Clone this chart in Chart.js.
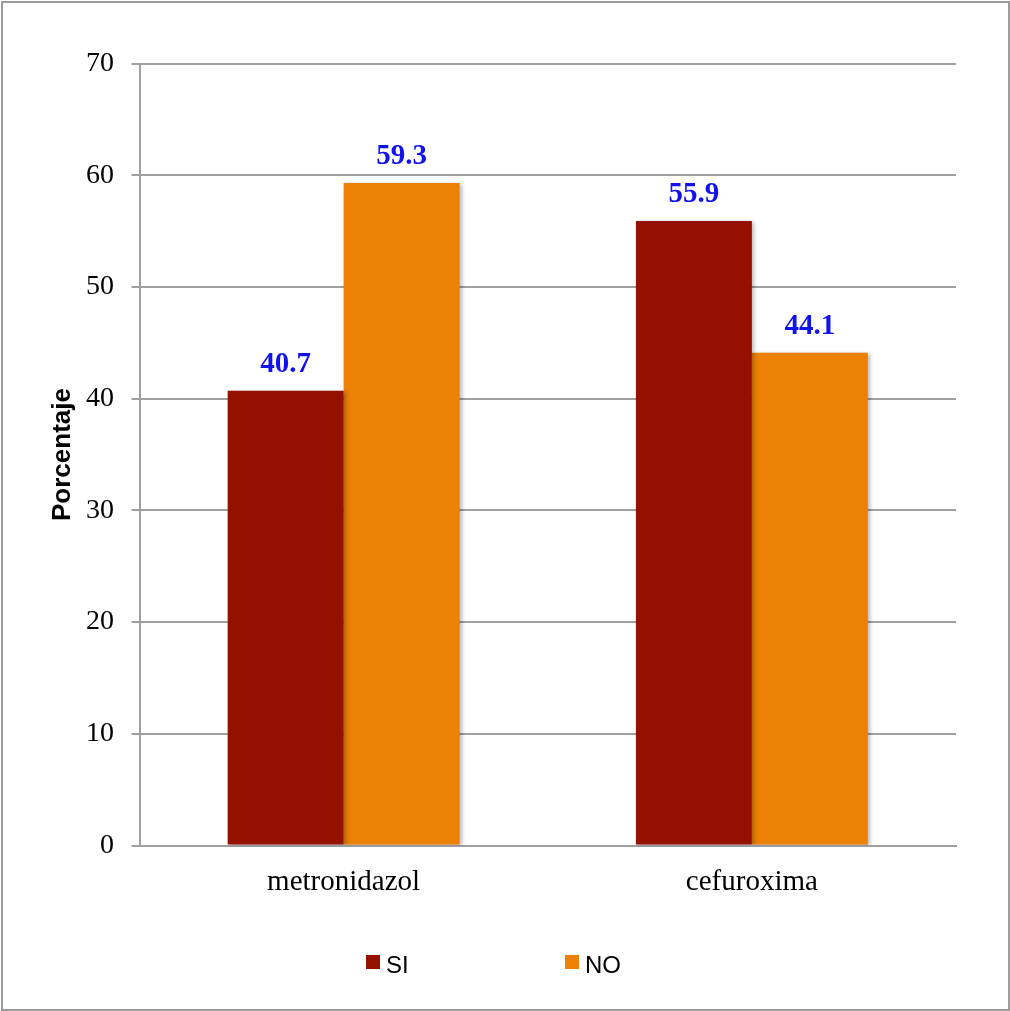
<!DOCTYPE html>
<html>
<head>
<meta charset="utf-8">
<script src="https://cdn.jsdelivr.net/npm/chart.js@4/dist/chart.umd.min.js"></script>
<style>
  html, body { margin: 0; padding: 0; background: #fff; }
  #wrap { position: absolute; left: 0; top: 0; width: 1010px; height: 1011px; }
</style>
</head>
<body>
<div id="wrap"><canvas id="grafico" width="1010" height="1011"></canvas></div>
<script>
const categorias = ['metronidazol', 'cefuroxima'];
const valoresSi = [40.7, 55.9];
const valoresNo = [59.3, 44.1];
const ejeMax = 70;
const ejePaso = 10;

const colorSi = '#941100';
const colorNo = '#ec8106';
const colorGris = '#a0a0a0';

// marco gris alrededor de todo el grafico
const marco = {
    id: 'marco',
    beforeDraw(chart) {
        const ctx = chart.ctx;
        ctx.save();
        ctx.fillStyle = '#fff';
        ctx.fillRect(0, 0, chart.width, chart.height);
        ctx.strokeStyle = '#9c9c9c';
        ctx.lineWidth = 2;
        ctx.strokeRect(2, 2, chart.width - 3, chart.height - 3);
        ctx.restore();
    }
};

// sombra suave de las barras
const sombra = {
    id: 'sombra',
    beforeDatasetDraw(chart) {
        const ctx = chart.ctx;
        ctx.save();
        ctx.shadowColor = 'rgba(0,0,0,0.28)';
        ctx.shadowBlur = 4;
        ctx.shadowOffsetX = 2;
        ctx.shadowOffsetY = 1;
    },
    afterDatasetDraw(chart) {
        chart.ctx.restore();
    }
};

// valores encima de cada barra
const etiquetas = {
    id: 'etiquetas',
    afterDatasetsDraw(chart) {
        const ctx = chart.ctx;
        ctx.save();
        ctx.font = 'bold 29px "Liberation Serif"';
        ctx.fillStyle = '#1212ee';
        ctx.textAlign = 'center';
        ctx.textBaseline = 'alphabetic';
        chart.data.datasets.forEach((ds, i) => {
            chart.getDatasetMeta(i).data.forEach((bar, j) => {
                ctx.fillText(ds.data[j].toFixed(1), bar.x, bar.y - 19);
            });
        });
        ctx.restore();
    }
};

// leyenda inferior
const leyenda = {
    id: 'leyenda',
    afterDraw(chart) {
        const ctx = chart.ctx;
        const xs = [366, 565];
        ctx.save();
        ctx.font = '24px "Liberation Sans"';
        ctx.textBaseline = 'alphabetic';
        ctx.textAlign = 'left';
        chart.data.datasets.forEach((ds, i) => {
            ctx.fillStyle = ds.backgroundColor;
            ctx.fillRect(xs[i], 955, 14, 14);
            ctx.fillStyle = '#000';
            ctx.fillText(ds.label, xs[i] + 20, 973);
        });
        ctx.restore();
    }
};

const ctx = document.getElementById('grafico').getContext('2d');
new Chart(ctx, {
    type: 'bar',
    data: {
        labels: categorias,
        datasets: [
            { label: 'SI', data: valoresSi, backgroundColor: colorSi },
            { label: 'NO', data: valoresNo, backgroundColor: colorNo }
        ]
    },
    options: {
        responsive: false,
        animation: false,
        devicePixelRatio: 1,
        layout: { padding: { left: 0, top: 63.5, right: 54, bottom: 105.5 } },
        datasets: {
            bar: { categoryPercentage: 0.568, barPercentage: 1.0, borderWidth: 0 }
        },
        plugins: {
            legend: { display: false },
            tooltip: { enabled: false }
        },
        scales: {
            x: {
                afterFit: s => { s.height = 60; },
                grid: { display: false, drawTicks: false },
                border: { display: true, color: colorGris, width: 2 },
                ticks: {
                    padding: 19,
                    color: '#000',
                    font: { family: 'Liberation Serif', size: 29 }
                }
            },
            y: {
                min: 0,
                max: ejeMax,
                afterFit: s => { s.width = 139.5; },
                grid: { color: colorGris, lineWidth: 2, tickLength: 8 },
                border: { display: true, color: colorGris, width: 2 },
                ticks: {
                    stepSize: ejePaso,
                    padding: 17.5,
                    color: '#000',
                    font: { family: 'Liberation Serif', size: 28 }
                },
                title: {
                    display: true,
                    text: 'Porcentaje',
                    color: '#000',
                    padding: { top: 47, bottom: 0 },
                    font: { family: 'Liberation Sans', size: 26, weight: 'bold' }
                }
            }
        }
    },
    plugins: [marco, sombra, etiquetas, leyenda]
});
</script>
</body>
</html>
